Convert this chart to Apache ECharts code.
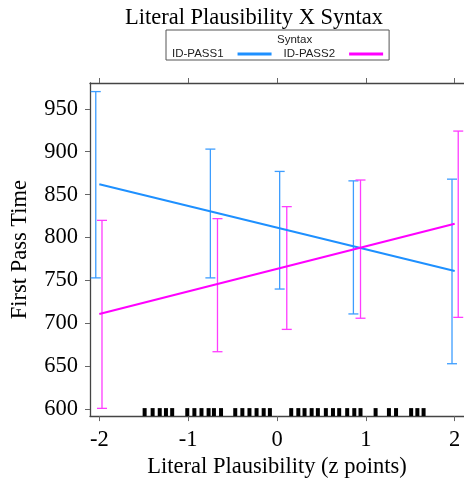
<!DOCTYPE html>
<html>
<head>
<meta charset="utf-8">
<script src="https://cdn.jsdelivr.net/npm/echarts@6/dist/echarts.min.js"></script>
<style>
  html, body { margin: 0; padding: 0; background: #fff; }
  #chart { width: 464px; height: 484px; }
</style>
</head>
<body>
<div id="chart"></div>
<script>
// fitted lines, predicted at z = -2 and z = 2
var lineX = [-2, 2];
var pass1Line = [862, 761];
var pass2Line = [711, 816];

// error bars (x position, lower, upper)
var pass1BarX = [-2.04, -0.75, 0.03, 0.86, 1.97];
var pass1Low  = [753, 753, 740, 711, 653];
var pass1High = [970, 903, 877, 866, 868];
var pass2BarX = [-1.97, -0.67, 0.11, 0.94, 2.04];
var pass2Low  = [601, 667, 693, 706, 707];
var pass2High = [820, 822, 836, 867, 924];

// rug of observed plausibility values
var rugX = [-1.49, -1.40, -1.32, -1.25, -1.18, -1.01, -0.93, -0.85, -0.77, -0.71, -0.63,
            -0.47, -0.39, -0.31, -0.23, -0.15, -0.08, 0.16, 0.24, 0.31, 0.39, 0.46,
            0.55, 0.63, 0.70, 0.79, 0.87, 0.94, 1.11, 1.26, 1.34, 1.51, 1.58, 1.65];

var xTicks = [-2, -1, 0, 1, 2];
var yTicks = [600, 650, 700, 750, 800, 850, 900, 950];
var xMin = -2.105, xMax = 2.105;
var yMin = 592, yMax = 980;

var blue = '#1E90FF', blueBar = '#3d9dff';
var pink = '#FF00FF', pinkBar = '#ff3cff';
var serif = 'Liberation Serif';

function pairs(xs, ys) {
  return xs.map(function (x, i) { return [x, ys[i]]; });
}
function bars(xs, lo, hi) {
  return xs.map(function (x, i) { return [x, lo[i], hi[i]]; });
}

function errorBar(color) {
  return function (params, api) {
    var x = api.value(0);
    var p1 = api.coord([x, api.value(1)]);
    var p2 = api.coord([x, api.value(2)]);
    var w = 5;
    var st = { stroke: color, lineWidth: 1.3 };
    return {
      type: 'group',
      children: [
        { type: 'line', shape: { x1: p1[0], y1: p1[1], x2: p2[0], y2: p2[1] }, style: st },
        { type: 'line', shape: { x1: p1[0] - w, y1: p1[1], x2: p1[0] + w, y2: p1[1] }, style: st },
        { type: 'line', shape: { x1: p2[0] - w, y1: p2[1], x2: p2[0] + w, y2: p2[1] }, style: st }
      ]
    };
  };
}

var chart = echarts.init(document.getElementById('chart'));
chart.setOption({
  animation: false,
  title: {
    text: 'Literal Plausibility X Syntax',
    left: 249, top: 2, textAlign: 'center',
    textStyle: { fontFamily: serif, fontSize: 22.5, fontWeight: 'normal', color: '#000' }
  },
  legend: {
    data: ['ID-PASS1', 'ID-PASS2'],
    left: 166, top: 30,
    align: 'right',
    icon: 'rect',
    itemWidth: 34, itemHeight: 3,
    itemGap: 12,
    padding: [18, 6, 0, 6],
    borderColor: '#555', borderWidth: 1, borderRadius: 0,
    textStyle: { fontFamily: 'Liberation Sans', fontSize: 11.5, color: '#222', padding: [0, 9, 0, 0] }
  },
  graphic: [{
    type: 'text', left: 277, top: 34,
    style: { text: 'Syntax', fontFamily: 'Liberation Sans', fontSize: 11.5, fill: '#222', textAlign: 'center' }
  }],
  grid: { left: 90, top: 83, width: 375, height: 338 },
  xAxis: [{
    type: 'value', min: xMin, max: xMax,
    name: 'Literal Plausibility (z points)',
    nameLocation: 'middle', nameGap: 36,
    nameTextStyle: { fontFamily: serif, fontSize: 22.5, color: '#000' },
    axisLine: { show: true, onZero: false, lineStyle: { color: '#444', width: 1.3 } },
    axisTick: { show: true, length: 5, customValues: xTicks, lineStyle: { color: '#666' } },
    axisLabel: { customValues: xTicks, margin: 12, fontFamily: serif, fontSize: 22.5, color: '#000' },
    splitLine: { show: false }
  }, {
    type: 'value', min: xMin, max: xMax, position: 'top',
    axisLine: { show: true, onZero: false, lineStyle: { color: '#444', width: 1.3 } },
    axisTick: { show: true, length: 5, customValues: xTicks, lineStyle: { color: '#666' } },
    axisLabel: { show: false },
    splitLine: { show: false }
  }],
  yAxis: {
    type: 'value', min: yMin, max: yMax,
    name: 'First Pass Time',
    nameLocation: 'middle', nameGap: 58,
    nameTextStyle: { fontFamily: serif, fontSize: 22.5, color: '#000' },
    axisLine: { show: true, onZero: false, lineStyle: { color: '#444', width: 1.3 } },
    axisTick: { show: true, length: 5, customValues: yTicks, lineStyle: { color: '#666' } },
    axisLabel: { customValues: yTicks, margin: 12, fontFamily: serif, fontSize: 22.5, color: '#000' },
    splitLine: { show: false }
  },
  series: [
    {
      type: 'custom', name: 'bars1', renderItem: errorBar(blueBar),
      encode: { x: 0, y: [1, 2] }, data: bars(pass1BarX, pass1Low, pass1High), z: 2
    },
    {
      type: 'custom', name: 'bars2', renderItem: errorBar(pinkBar),
      encode: { x: 0, y: [1, 2] }, data: bars(pass2BarX, pass2Low, pass2High), z: 2
    },
    {
      name: 'ID-PASS1', type: 'line', data: pairs(lineX, pass1Line),
      showSymbol: false, color: blue, lineStyle: { color: blue, width: 2 }, z: 3
    },
    {
      name: 'ID-PASS2', type: 'line', data: pairs(lineX, pass2Line),
      showSymbol: false, color: pink, lineStyle: { color: pink, width: 2 }, z: 3
    },
    {
      type: 'custom', name: 'rug',
      renderItem: function (params, api) {
        var p = api.coord([api.value(0), yMin]);
        return { type: 'rect', shape: { x: p[0] - 2, y: p[1] - 8, width: 4, height: 8 }, style: { fill: '#000' } };
      },
      encode: { x: 0 }, data: rugX.map(function (v) { return [v]; }), z: 4
    }
  ]
});
</script>
</body>
</html>
